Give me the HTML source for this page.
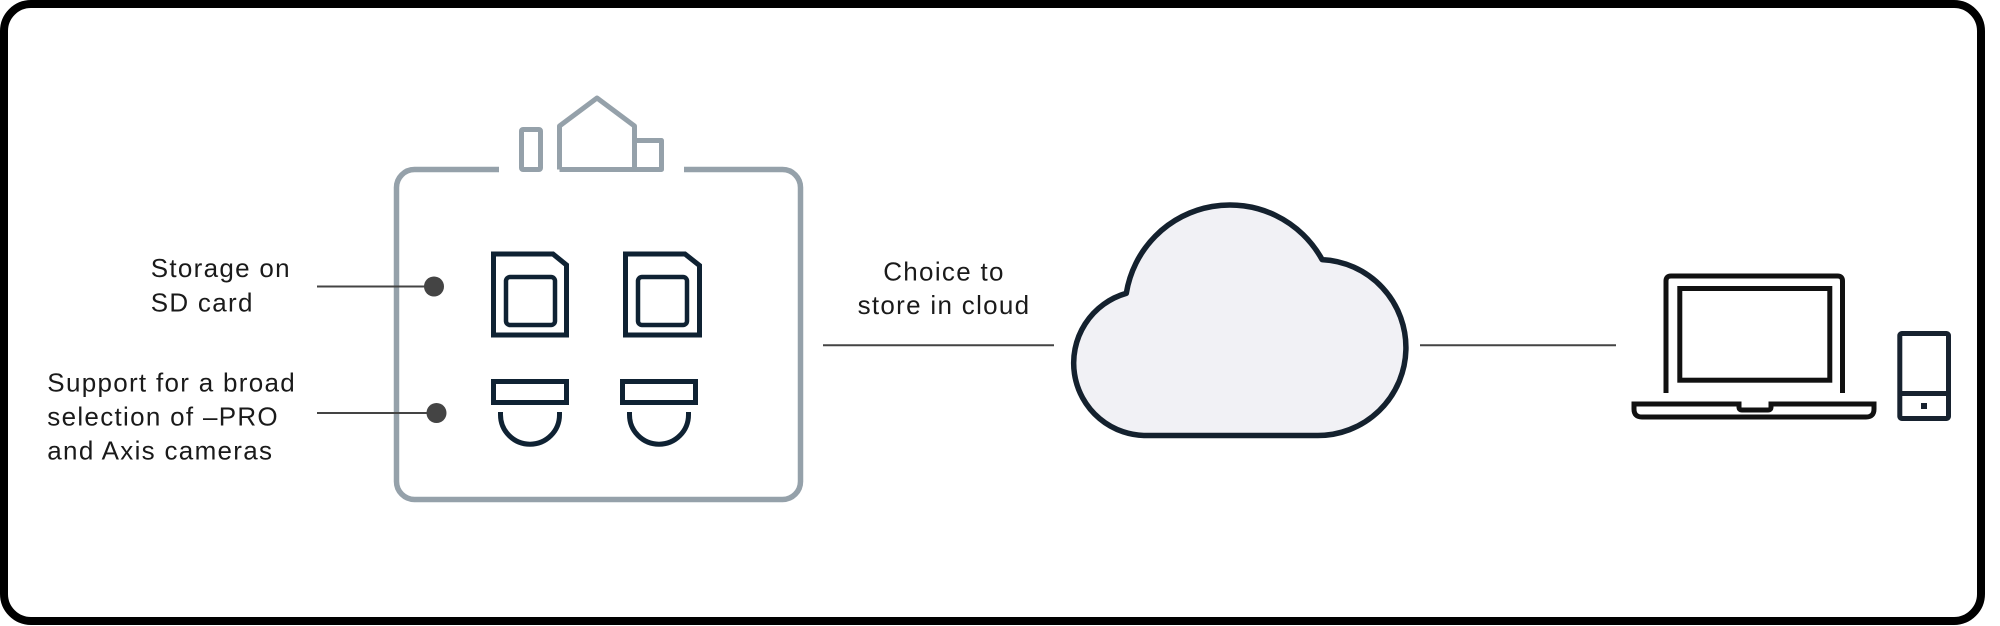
<!DOCTYPE html>
<html>
<head>
<meta charset="utf-8">
<style>
  html, body { margin: 0; padding: 0; background: #ffffff; }
  body { width: 2000px; height: 626px; overflow: hidden; }
  svg { display: block; }
  text { font-family: "Liberation Sans", "DejaVu Sans", sans-serif; font-size: 26px; fill: #1a1a1a; letter-spacing: 1.3px; }
</style>
</head>
<body>
<svg width="2000" height="626" viewBox="0 0 2000 626" xmlns="http://www.w3.org/2000/svg">
  <!-- outer frame -->
  <rect x="4" y="4" width="1977" height="617" rx="27" ry="27" fill="#ffffff" stroke="#000000" stroke-width="8"/>

  <!-- device box -->
  <g fill="none" stroke="#95a1aa" stroke-width="5.5" stroke-linejoin="round">
    <path d="M499 169.5 H414.5 A18 18 0 0 0 396.5 187.5 V481.5 A18 18 0 0 0 414.5 499.5 H782.5 A18 18 0 0 0 800.5 481.5 V187.5 A18 18 0 0 0 782.5 169.5 H684"/>
    <rect x="521.5" y="129.5" width="19" height="40" rx="1.5" stroke-width="5"/>
    <path d="M559.5 169.5 V126 L597 98 L634.5 126 V169.5 M634.5 140.5 H661.5 V169.5 H559.5" stroke-width="5"/>
  </g>

  <!-- SD cards -->
  <g fill="none" stroke="#0f2233" stroke-width="5" stroke-linejoin="miter">
    <path d="M493.5 335 V254 H553 L566.5 265 V335 Z"/>
    <rect x="506" y="277" width="49" height="48" rx="4" stroke-width="4.5"/>
    <path d="M625.5 335 V254 H685 L699.5 265.5 V335 Z"/>
    <rect x="638" y="277" width="49" height="48" rx="4" stroke-width="4.5"/>
  </g>

  <!-- cameras -->
  <g fill="none" stroke="#0f2233" stroke-width="5">
    <rect x="493.5" y="381.5" width="73" height="21"/>
    <path d="M500.5 412 V414.7 A29.5 29.5 0 0 0 559.5 414.7 V412"/>
    <rect x="622.5" y="381.5" width="73" height="21"/>
    <path d="M629.5 412 V414.7 A29.5 29.5 0 0 0 688.5 414.7 V412"/>
  </g>

  <!-- callout lines and dots -->
  <g stroke="#444444" stroke-width="2">
    <line x1="317" y1="286.5" x2="434" y2="286.5"/>
    <line x1="317" y1="413" x2="436" y2="413"/>
  </g>
  <circle cx="434" cy="286.5" r="10" fill="#444444"/>
  <circle cx="436.5" cy="413" r="10" fill="#444444"/>

  <!-- labels -->
  <text x="150.7" y="277">Storage on</text>
  <text x="150.7" y="311.5">SD card</text>
  <text x="47.3" y="391.5">Support for a broad</text>
  <text x="47.3" y="425.5">selection of –PRO</text>
  <text x="47.3" y="459.5">and Axis cameras</text>

  <text x="944" y="280.7" text-anchor="middle">Choice to</text>
  <text x="944" y="314" text-anchor="middle">store in cloud</text>

  <!-- connectors -->
  <g stroke="#444444" stroke-width="2">
    <line x1="823" y1="345.3" x2="1054" y2="345.3"/>
    <line x1="1420" y1="345.3" x2="1616" y2="345.3"/>
  </g>

  <!-- cloud -->
  <path d="M1148 435.5 A72.5 72.5 0 0 1 1126.3 293.3 A105 105 0 0 1 1322.1 259.6 A88 88 0 0 1 1317.5 435.5 Z"
        fill="#f1f1f5" stroke="#14212e" stroke-width="5.5" stroke-linejoin="round"/>

  <!-- laptop -->
  <g fill="none" stroke="#111111" stroke-width="5" stroke-linejoin="miter">
    <path d="M1666 393 V281 Q1666 276 1671 276 H1837.5 Q1842.5 276 1842.5 281 V393"/>
    <rect x="1679.8" y="288.5" width="150" height="91.7"/>
    <path d="M1634 404 H1739 V407 Q1739 410 1742 410 H1768 Q1771 410 1771 407 V404 H1874 V409 Q1874 417 1866 417 H1642 Q1634 417 1634 409 Z"/>
  </g>

  <!-- phone -->
  <g fill="none" stroke="#17222f" stroke-width="5">
    <rect x="1899.8" y="333.5" width="48.7" height="85" rx="2"/>
    <line x1="1899.8" y1="393.5" x2="1948.5" y2="393.5"/>
  </g>
  <rect x="1921" y="403" width="6" height="6" fill="#17222f"/>
</svg>
</body>
</html>
